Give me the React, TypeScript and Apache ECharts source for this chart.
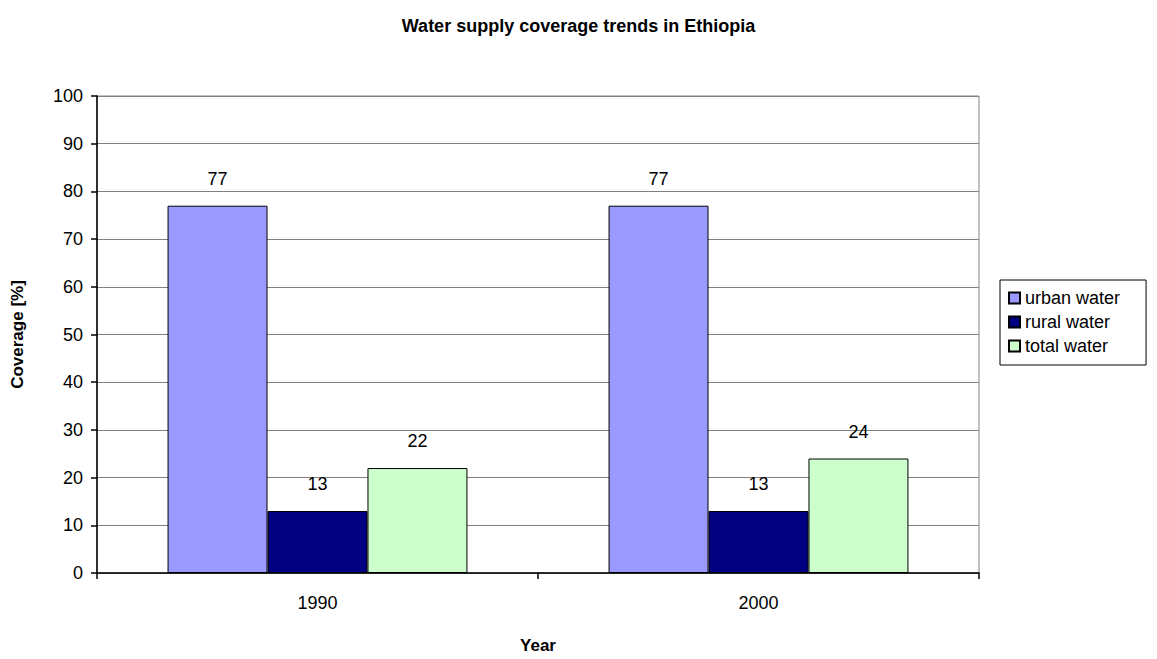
import React, { useEffect, useRef } from "react";
import * as echarts from "echarts";

const years = ["1990", "2000"];
const urbanWater = [77, 77];
const ruralWater = [13, 13];
const totalWater = [22, 24];
const yTicks = { min: 0, max: 100, interval: 10 };

const FONT = "'Liberation Sans', Arial, sans-serif";

export default function App() {
  const ref = useRef<HTMLDivElement>(null);

  useEffect(() => {
    if (!ref.current) return;
    const chart = echarts.init(ref.current, undefined, { renderer: "svg" });

    const makeSeries = (name: string, data: number[], color: string) => ({
      name,
      type: "bar",
      data,
      barGap: "0%",
      barCategoryGap: "32%",
      itemStyle: { color, borderColor: "#000", borderWidth: 1 },
      label: {
        show: true,
        position: "top",
        distance: 18,
        color: "#000",
        fontSize: 18,
        fontFamily: FONT,
      },
    });

    chart.setOption({
      animation: false,
      backgroundColor: "#fff",
      textStyle: { fontFamily: FONT },
      title: {
        text: "Water supply coverage trends in Ethiopia",
        left: "center",
        top: 12,
        textStyle: { fontSize: 18, fontWeight: "bold", color: "#000", fontFamily: FONT },
      },
      grid: {
        left: 97,
        right: 178,
        top: 96,
        bottom: 84,
        show: true,
        borderColor: "#808080",
        borderWidth: 1,
      },
      legend: {
        orient: "vertical",
        left: 1000,
        top: 280,
        padding: [9, 26, 10, 8],
        itemGap: 6,
        itemWidth: 11,
        itemHeight: 11,
        icon: "rect",
        borderColor: "#000",
        borderWidth: 1,
        textStyle: { fontSize: 18, color: "#000", fontFamily: FONT },
        data: ["urban water", "rural water", "total water"],
      },
      xAxis: {
        type: "category",
        data: years,
        name: "Year",
        nameLocation: "middle",
        nameGap: 64,
        nameTextStyle: { fontSize: 17, fontWeight: "bold", color: "#000", fontFamily: FONT },
        axisLine: { lineStyle: { color: "#000", width: 1.5 } },
        axisTick: { show: true, length: 6, lineStyle: { color: "#000", width: 1.5 } },
        axisLabel: { fontSize: 18, color: "#000", margin: 21, fontFamily: FONT },
        splitLine: { show: false },
      },
      yAxis: {
        type: "value",
        min: yTicks.min,
        max: yTicks.max,
        interval: yTicks.interval,
        name: "Coverage [%]",
        nameLocation: "middle",
        nameGap: 71,
        nameTextStyle: { fontSize: 17, fontWeight: "bold", color: "#000", fontFamily: FONT },
        axisLine: { show: true, lineStyle: { color: "#000", width: 1.5 } },
        axisTick: { show: true, length: 6, lineStyle: { color: "#000", width: 1.5 } },
        axisLabel: { fontSize: 18, color: "#000", margin: 14, fontFamily: FONT },
        splitLine: { show: true, lineStyle: { color: "#808080", width: 1 } },
      },
      series: [
        makeSeries("urban water", urbanWater, "#9999FF"),
        makeSeries("rural water", ruralWater, "#000080"),
        makeSeries("total water", totalWater, "#CCFFCC"),
      ],
    });

    return () => chart.dispose();
  }, []);

  return (
    <div
      ref={ref}
      style={{ position: "absolute", left: 0, top: 0, width: 1157, height: 659 }}
    />
  );
}
